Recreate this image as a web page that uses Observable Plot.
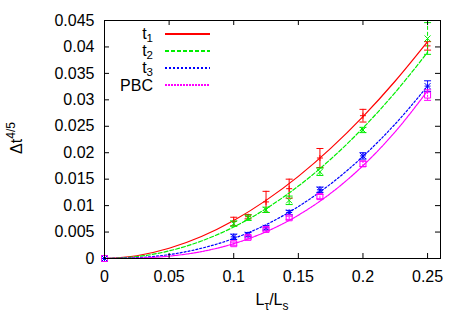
<!DOCTYPE html>
<html><head><meta charset="utf-8">
<script src="https://cdn.jsdelivr.net/npm/d3@7"></script>
<script src="https://cdn.jsdelivr.net/npm/@observablehq/plot@0.6"></script>
<style>
body{margin:0;background:#fff}
svg{font-family:"Liberation Sans",Arial,sans-serif}
</style>
</head><body><div id="chart"></div>
<script>
// ---- data ----
const xPts = [0, 0.1, 0.1111, 0.125, 0.1429, 0.1667, 0.2, 0.25];
const t1Y   = [0, 0.0070, 0.0079, 0.0107, 0.0132, 0.0190, 0.0270, 0.0402];
const t1Err = [0, 0.0008, 0.0004, 0.0020, 0.0018, 0.0018, 0.0012, 0.0008];
const t2Y   = [0, 0.0066, 0.0077, 0.0092, 0.0110, 0.0164, 0.0243, 0.0416];
const t2Err = [0, 0.0005, 0.0005, 0.0005, 0.0008, 0.0007, 0.0005, 0.0030];
const t3Y   = [0, 0.0041, 0.0045, 0.0058, 0.0087, 0.0130, 0.0194, 0.0326];
const t3Err = [0, 0.0005, 0.0004, 0.0004, 0.0004, 0.0005, 0.0006, 0.0010];
const pbcY   = [0, 0.0028, 0.0040, 0.0055, 0.0077, 0.0117, 0.0179, 0.0309];
const pbcErr = [0, 0.0003, 0.0003, 0.0003, 0.0003, 0.0004, 0.0005, 0.0010];

const xFit   = [0, 0.025, 0.05, 0.075, 0.1, 0.125, 0.15, 0.175, 0.2, 0.225, 0.25];
const t1Fit  = [0, 0.00052, 0.00193, 0.00416, 0.00719, 0.01099, 0.01553, 0.02082, 0.02683, 0.03356, 0.0410];
const t2Fit  = [0, 0.00035, 0.00144, 0.0033, 0.00596, 0.00942, 0.01369, 0.01877, 0.02468, 0.03142, 0.0390];
const t3Fit  = [0, 0.00015, 0.00074, 0.00193, 0.00379, 0.00639, 0.00982, 0.0141, 0.0193, 0.02545, 0.0326];
const pbcFit = [0, 0.00007, 0.00045, 0.0013, 0.0028, 0.00505, 0.00819, 0.01232, 0.01755, 0.02398, 0.0317];

const xTicks = [0, 0.05, 0.1, 0.15, 0.2, 0.25];
const xTickLabels = ["0", "0.05", "0.1", "0.15", "0.2", "0.25"];
const yTicks = [0, 0.005, 0.01, 0.015, 0.02, 0.025, 0.03, 0.035, 0.04, 0.045];
const yTickLabels = ["0", "0.005", "0.01", "0.015", "0.02", "0.025", "0.03", "0.035", "0.04", "0.045"];

const seriesKeys = ["t1", "t2", "t3", "PBC"];
const seriesSub = ["1", "2", "3", null];

// ---- styles ----
const seriesColors = ["#ff0000", "#00ee00", "#0000ff", "#ff00ff"];
const dashes = [null, "4,2", "2,2", "2,1"];

const sym = (f) => ({draw(c, s) { const r = Math.sqrt(s / Math.PI); f(c, r); }});
const plusS = sym((c, r) => { c.moveTo(-r, 0); c.lineTo(r, 0); c.moveTo(0, -r); c.lineTo(0, r); });
const timesS = sym((c, r) => { c.moveTo(-r, -r); c.lineTo(r, r); c.moveTo(-r, r); c.lineTo(r, -r); });
const starS = sym((c, r) => { c.moveTo(-r, 0); c.lineTo(r, 0); c.moveTo(0, -r); c.lineTo(0, r);
  c.moveTo(-r, -r); c.lineTo(r, r); c.moveTo(-r, r); c.lineTo(r, -r); });
const squareS = sym((c, r) => { c.moveTo(-r, -r); c.lineTo(r, -r); c.lineTo(r, r); c.lineTo(-r, r); c.closePath(); });
const capS = sym((c, r) => { c.moveTo(-r, 0); c.lineTo(r, 0); });
const markers = [plusS, timesS, starS, squareS];

const ys = [t1Y, t2Y, t3Y, pbcY];
const errs = [t1Err, t2Err, t3Err, pbcErr];
const fits = [t1Fit, t2Fit, t3Fit, pbcFit];

const W = 471, H = 330, mL = 104, mR = 31, mT = 20, mB = 72;
const innerW = W - mL - mR, innerH = H - mT - mB;

const marks = [];
seriesKeys.forEach((k, s) => {
  const pts = xPts.map((x, i) => ({x, y: ys[s][i], lo: ys[s][i] - errs[s][i], hi: ys[s][i] + errs[s][i]}));
  const fit = xFit.map((x, i) => ({x, y: fits[s][i]}));
  const withErr = pts.filter(d => d.hi > d.lo);
  marks.push(
    Plot.line(fit, {x: "x", y: "y", stroke: seriesColors[s], strokeWidth: 1.2, strokeDasharray: dashes[s], curve: "monotone-x"}),
    Plot.ruleX(withErr, {x: "x", y1: "lo", y2: "hi", stroke: seriesColors[s], strokeWidth: 1, strokeDasharray: dashes[s], clip: true}),
    Plot.dot(withErr, {x: "x", y: "lo", symbol: capS, r: 3.5, stroke: seriesColors[s], fill: "none", strokeWidth: 1}),
    Plot.dot(withErr.filter(d => d.hi <= 0.045), {x: "x", y: "hi", symbol: capS, r: 3.5, stroke: seriesColors[s], fill: "none", strokeWidth: 1}),
    Plot.dot(pts, {x: "x", y: "y", symbol: markers[s], r: 3, stroke: seriesColors[s], fill: "none", strokeWidth: 1})
  );
});

const plot = Plot.plot({
  width: W, height: H,
  marginLeft: mL, marginRight: mR, marginTop: mT, marginBottom: mB,
  style: {fontSize: "16px", fontFamily: "'Liberation Sans', Arial, sans-serif", background: "#fff"},
  x: {domain: [0, 0.26]},
  y: {domain: [0, 0.045]},
  marks: [
    ...marks,
    Plot.frame({stroke: "#000", strokeWidth: 1}),
    Plot.tickX(xTicks, {x: d => d, insetTop: innerH - 5, stroke: "#000"}),
    Plot.tickX(xTicks, {x: d => d, insetBottom: innerH - 5, stroke: "#000"}),
    Plot.tickY(yTicks, {y: d => d, insetRight: innerW - 5, stroke: "#000"}),
    Plot.tickY(yTicks, {y: d => d, insetLeft: innerW - 5, stroke: "#000"}),
    Plot.axisX({ticks: xTicks, tickSize: 0, tickPadding: 12, label: null, fill: "#000",
      tickFormat: d => xTickLabels[xTicks.indexOf(d)]}),
    Plot.axisY({ticks: yTicks, tickSize: 0, tickPadding: 10, label: null, fill: "#000",
      tickFormat: d => yTickLabels[yTicks.indexOf(d)]})
  ]
});
document.getElementById("chart").appendChild(plot);

// ---- axis titles and legend with sub/superscripts ----
const svg = d3.select(plot);
const ff = "'Liberation Sans', Arial, sans-serif";

const xl = svg.append("text").attr("x", 272).attr("y", 305).attr("text-anchor", "middle")
  .attr("font-size", 16).attr("font-family", ff).attr("fill", "#000");
xl.append("tspan").text("L");
xl.append("tspan").attr("dy", 5).attr("font-size", 12).text("τ");
xl.append("tspan").attr("dy", -5).text("/L");
xl.append("tspan").attr("dy", 5).attr("font-size", 12).text("s");

const yl = svg.append("text").attr("transform", "translate(22,138) rotate(-90)").attr("text-anchor", "middle")
  .attr("font-size", 16).attr("font-family", ff).attr("fill", "#000");
yl.append("tspan").text("Δt");
yl.append("tspan").attr("dy", -7).attr("font-size", 12).text("4/5");

const rows = [34, 51, 68, 85];
seriesKeys.forEach((k, s) => {
  const t = svg.append("text").attr("x", 153).attr("y", rows[s] + (seriesSub[s] ? 4.5 : 5.7)).attr("text-anchor", "end")
    .attr("font-size", 16).attr("font-family", ff).attr("fill", "#000");
  if (seriesSub[s]) {
    t.append("tspan").text("t");
    t.append("tspan").attr("dy", 3.5).attr("font-size", 11.5).text(seriesSub[s]);
  } else {
    t.append("tspan").text(k);
  }
  const ln = svg.append("line").attr("x1", 165).attr("x2", 210).attr("y1", rows[s]).attr("y2", rows[s])
    .attr("stroke", seriesColors[s]).attr("stroke-width", 2);
  if (dashes[s]) ln.attr("stroke-dasharray", dashes[s]);
});
</script>
</body></html>
